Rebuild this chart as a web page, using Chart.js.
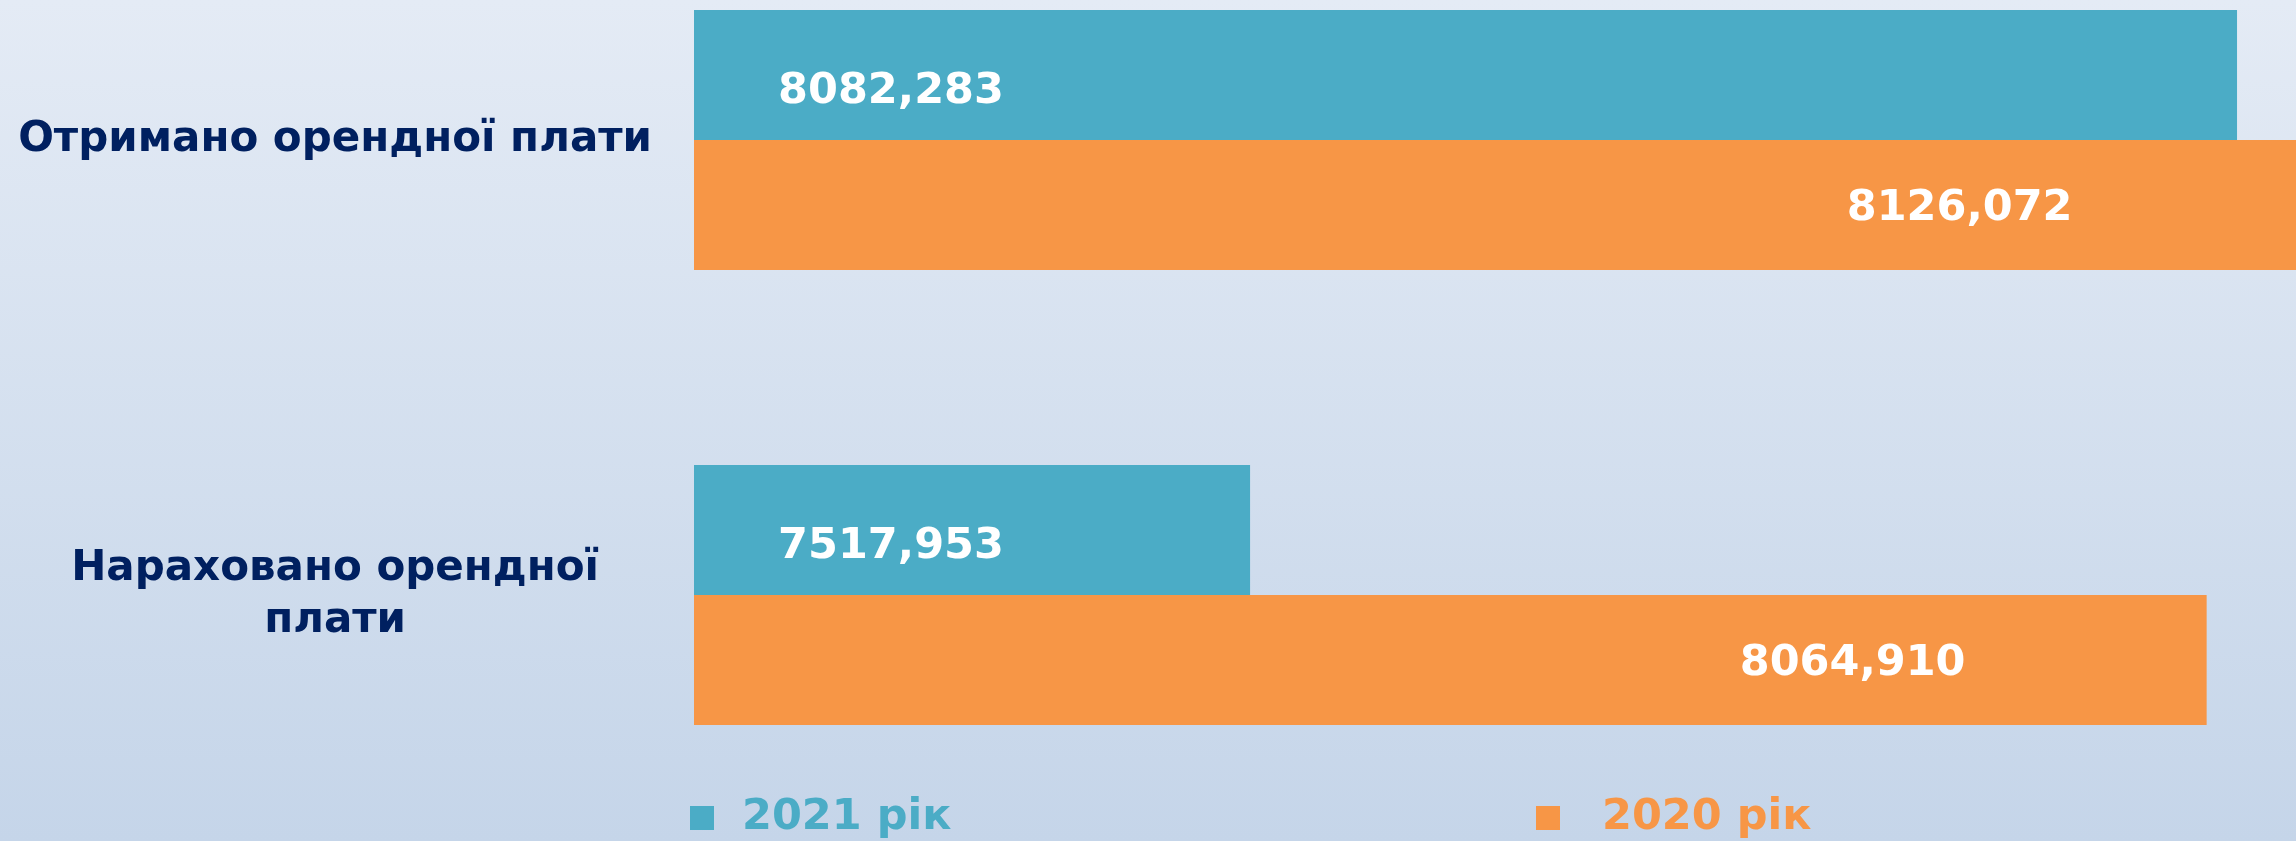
<!DOCTYPE html>
<html>
<head>
<meta charset="utf-8">
<script src="https://cdn.jsdelivr.net/npm/chart.js@4.4.0/dist/chart.umd.min.js"></script>
<style>
	html, body { margin: 0; padding: 0; overflow: hidden; }
	body { width: 2296px; height: 841px; background: linear-gradient(to bottom, #e4ebf5 0%, #c5d5e9 100%); }
	#wrap { position: relative; width: 2296px; height: 841px; }
</style>
</head>
<body>
<div id="wrap"><canvas id="BarChart"></canvas></div>
<script>
	var categories = [['Отримано орендної плати'], ['Нараховано орендної', 'плати']];
	var years = ['2021 рік', '2020 рік'];
	var values2021 = [8082.283, 7517.953];
	var values2020 = [8126.072, 8064.910];
	var colors = ['#4bacc6', '#f79646'];
	var axisStart = 7200;

	function formatValue(v){
		return v.toFixed(3).replace('.', ',');
	}

	// value labels inside the bars
	var barLabels = {
		id: 'barLabels',
		afterDatasetsDraw: function(chart, args, opts){
			var ctx = chart.ctx;
			ctx.save();
			ctx.font = 'bold 43px "DejaVu Sans"';
			ctx.fillStyle = '#ffffff';
			ctx.textAlign = 'center';
			ctx.textBaseline = 'middle';
			chart.data.datasets.forEach(function(ds, i){
				var meta = chart.getDatasetMeta(i);
				meta.data.forEach(function(bar, j){
					var x = opts.anchor[i] == 'start' ? bar.base + opts.shift[i] : bar.x + opts.shift[i];
					ctx.fillText(formatValue(ds.data[j]), x, bar.y + opts.dy[i]);
				});
			});
			ctx.restore();
		}
	};

	// legend spread across the bottom like the slide
	var wideLegend = {
		id: 'wideLegend',
		afterDraw: function(chart, args, opts){
			var ctx = chart.ctx;
			ctx.save();
			ctx.font = 'bold 43px "DejaVu Sans"';
			ctx.textAlign = 'left';
			ctx.textBaseline = 'middle';
			chart.data.datasets.forEach(function(ds, i){
				var x = opts.x[i];
				ctx.fillStyle = ds.backgroundColor;
				ctx.fillRect(x, opts.y - opts.box / 2, opts.box, opts.box);
				ctx.fillText(ds.label, x + opts.box + opts.gap[i], opts.y);
			});
			ctx.restore();
		}
	};

	new Chart(document.getElementById('BarChart'), {
		type: 'bar',
		data: {
			labels: categories,
			datasets: [
				{
					label: years[0],
					data: values2021,
					backgroundColor: colors[0]
				},
				{
					label: years[1],
					data: values2020,
					backgroundColor: colors[1]
				}
			]
		},
		options: {
			indexAxis: 'y',
			responsive: true,
			maintainAspectRatio: false,
			animation: false,
			layout: { padding: { top: 140, bottom: 246, left: 0, right: 0 } },
			datasets: {
				bar: {
					base: axisStart,
					borderWidth: 0,
					clip: false,
					categoryPercentage: 0.571,
					barPercentage: 1.0
				}
			},
			scales: {
				x: {
					display: false,
					min: axisStart,
					max: 8116
				},
				y: {
					offset: false,
					grid: { display: false, drawTicks: false },
					border: { display: false },
					ticks: {
						color: '#002060',
						font: { family: 'DejaVu Sans', size: 42, weight: 'bold', lineHeight: 1.24 },
						padding: 42,
						crossAlign: 'center',
						autoSkip: false
					},
					afterFit: function(scale){
						scale.width = 694;
					}
				}
			},
			plugins: {
				legend: { display: false },
				tooltip: { enabled: false },
				barLabels: {
					anchor: ['start', 'end'],
					shift: [197, -354],
					dy: [17, 4]
				},
				wideLegend: {
					x: [690, 1536],
					y: 818,
					box: 24,
					gap: [28, 42]
				}
			}
		},
		plugins: [barLabels, wideLegend]
	});
</script>
</body>
</html>
